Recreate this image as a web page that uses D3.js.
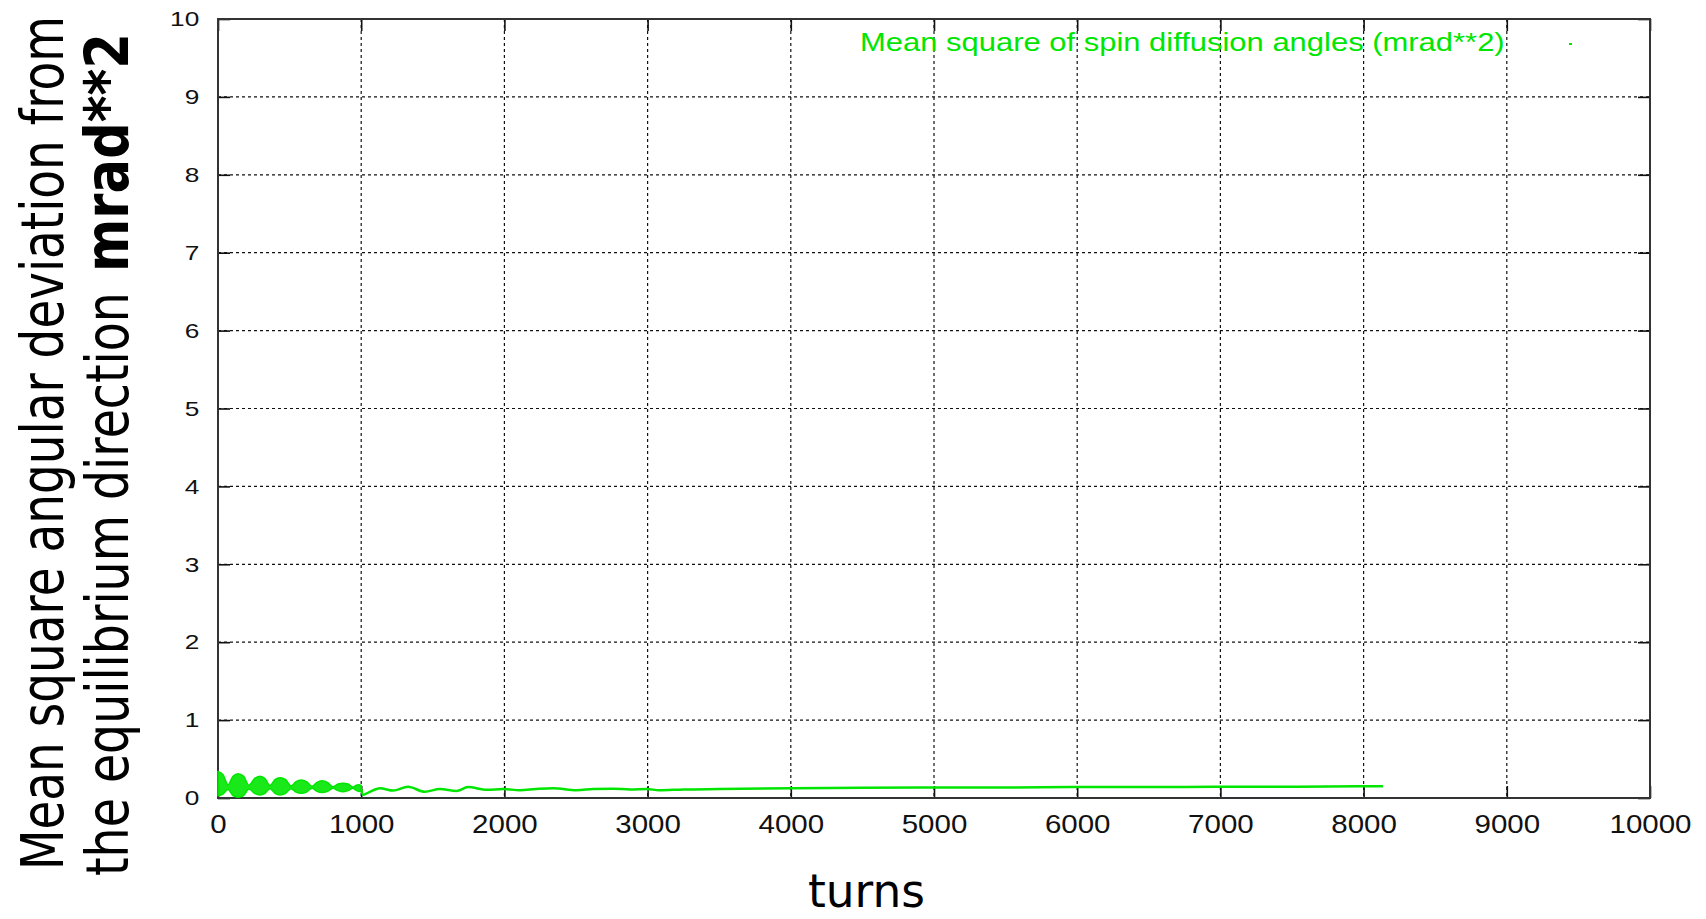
<!DOCTYPE html>
<html>
<head>
<meta charset="utf-8">
<script src="https://cdn.jsdelivr.net/npm/d3@7"></script>
<style>
  body { margin: 0; background: #fff; }
  svg { display: block; }
</style>
</head>
<body>
<div id="chart"></div>
<script>
// dense oscillating part (0 - 1000 turns): envelope
const bandTurns = [0, 35, 70, 105, 140, 178, 216, 255, 293, 328, 363, 398, 433, 472, 510, 545, 580, 618, 656, 691, 726, 765, 803, 838, 873, 908, 943, 962, 985, 1000];
const bandUpper = [0.34, 0.30, 0.17, 0.28, 0.31, 0.28, 0.165, 0.25, 0.28, 0.25, 0.16, 0.235, 0.26, 0.235, 0.155, 0.21, 0.23, 0.21, 0.15, 0.20, 0.22, 0.20, 0.145, 0.18, 0.19, 0.18, 0.14, 0.16, 0.17, 0.16];
const bandLower = [0.03, 0.05, 0.11, 0.03, 0.01, 0.03, 0.115, 0.06, 0.04, 0.06, 0.12, 0.06, 0.04, 0.06, 0.12, 0.075, 0.06, 0.075, 0.125, 0.085, 0.07, 0.085, 0.125, 0.095, 0.08, 0.095, 0.125, 0.10, 0.085, 0.09];

// single curve after 1000 turns
const lineTurns = [1000, 1010, 1050, 1131, 1224, 1327, 1444, 1550, 1666, 1746, 1877, 1992, 2108, 2220, 2340, 2505, 2620, 2760, 2880, 2995, 3080, 3250, 3500, 4000, 4500, 5000, 5500, 6000, 6500, 7000, 7500, 8000, 8135];
const lineValues = [0.12, 0.04, 0.07, 0.125, 0.095, 0.145, 0.08, 0.115, 0.09, 0.14, 0.105, 0.115, 0.10, 0.115, 0.125, 0.10, 0.115, 0.12, 0.11, 0.115, 0.10, 0.11, 0.115, 0.125, 0.13, 0.135, 0.135, 0.14, 0.14, 0.145, 0.145, 0.15, 0.15];

const xTicks = [0, 1000, 2000, 3000, 4000, 5000, 6000, 7000, 8000, 9000, 10000];
const yTicks = [0, 1, 2, 3, 4, 5, 6, 7, 8, 9, 10];

const legendLabel = 'Mean square of spin diffusion angles (mrad**2)';
const green = '#00e600';

const W = 1706, H = 919;
const margin = { top: 19, right: 56, bottom: 121, left: 218 },
      width = W - margin.left - margin.right,
      height = H - margin.top - margin.bottom;

const svg = d3.select('#chart').append('svg')
    .attr('width', W)
    .attr('height', H);

const g = svg.append('g')
    .attr('transform', 'translate(' + margin.left + ',' + margin.top + ')');

const x = d3.scaleLinear().domain([0, 10000]).range([0, width]);
const y = d3.scaleLinear().domain([0, 10]).range([height, 0]);

// squeeze a text along its own direction so it spans `len` pixels
function fitText(sel, pos, len) {
    const natural = sel.node().getComputedTextLength();
    sel.attr('transform', pos + ' scale(' + (len / natural) + ',1)');
}

// grid (dotted)
g.append('g').selectAll('line.gx')
    .data(xTicks.slice(1, -1))
    .enter().append('line')
    .attr('x1', d => x(d)).attr('x2', d => x(d))
    .attr('y1', 0).attr('y2', height)
    .attr('stroke', '#111').attr('stroke-width', 1.2)
    .attr('stroke-dasharray', '3,3');

g.append('g').selectAll('line.gy')
    .data(yTicks.slice(1, -1))
    .enter().append('line')
    .attr('x1', 0).attr('x2', width)
    .attr('y1', d => y(d)).attr('y2', d => y(d))
    .attr('stroke', '#111').attr('stroke-width', 1.2)
    .attr('stroke-dasharray', '3,3');

// axes: inward ticks on all four sides
const tickLen = 12;
const xAxis = g.append('g')
    .attr('transform', 'translate(0,' + height + ')')
    .call(d3.axisBottom(x).tickValues(xTicks).tickSizeInner(-tickLen).tickSizeOuter(0).tickPadding(tickLen + 5).tickFormat(d3.format('d')));
xAxis.selectAll('text')
    .attr('transform', 'scale(1.18,1)')
    .style('font-family', '"Liberation Sans", Arial, sans-serif')
    .style('font-size', '25px')
    .attr('fill', '#111');

const yAxis = g.append('g')
    .call(d3.axisLeft(y).tickValues(yTicks).tickSizeInner(-tickLen).tickSizeOuter(0).tickPadding(0).tickFormat(d3.format('d')));
yAxis.selectAll('text')
    .attr('x', -15)
    .attr('transform', 'scale(1.25,1)')
    .style('font-family', '"Liberation Sans", Arial, sans-serif')
    .style('font-size', '21px')
    .attr('fill', '#111');

g.append('g')
    .call(d3.axisTop(x).tickValues(xTicks).tickSizeInner(-tickLen).tickSizeOuter(0).tickFormat(''));
g.append('g')
    .attr('transform', 'translate(' + width + ',0)')
    .call(d3.axisRight(y).tickValues(yTicks).tickSizeInner(-tickLen).tickSizeOuter(0).tickFormat(''));

g.selectAll('.domain').remove();
g.selectAll('.tick line').attr('stroke', '#111').attr('stroke-width', 1.6);

// frame
g.append('rect')
    .attr('x', 0).attr('y', 0)
    .attr('width', width).attr('height', height)
    .attr('fill', 'none')
    .attr('stroke', '#333')
    .attr('stroke-width', 2);

// data
const band = bandTurns.map((t, i) => ({ t: t, hi: bandUpper[i], lo: bandLower[i] }));
const area = d3.area()
    .x(d => x(d.t))
    .y0(d => y(d.lo))
    .y1(d => y(d.hi))
    .curve(d3.curveMonotoneX);

g.append('path')
    .datum(band)
    .attr('d', area)
    .attr('fill', green)
    .attr('fill-opacity', 0.9)
    .attr('stroke', green)
    .attr('stroke-width', 1.5);

const pts = lineTurns.map((t, i) => ({ t: t, v: lineValues[i] }));
const line = d3.line()
    .x(d => x(d.t))
    .y(d => y(d.v))
    .curve(d3.curveMonotoneX);

g.append('path')
    .datum(pts)
    .attr('d', line)
    .attr('fill', 'none')
    .attr('stroke', green)
    .attr('stroke-width', 2.5);

// legend
const legendText = svg.append('text')
    .style('font-family', '"Liberation Sans Narrow", "Liberation Sans", Arial, sans-serif')
    .style('font-size', '26px')
    .attr('fill', green)
    .text(legendLabel);
fitText(legendText, 'translate(860,51)', 645);

svg.append('line')
    .attr('x1', 1569).attr('x2', 1572)
    .attr('y1', 44).attr('y2', 44)
    .attr('stroke', green)
    .attr('stroke-width', 2);

// axis titles
const titleFont = '"DejaVu Sans", Verdana, sans-serif';

const xTitle = svg.append('text')
    .style('font-family', titleFont)
    .style('font-size', '46px')
    .attr('fill', '#000')
    .text('turns');
fitText(xTitle, 'translate(808,907)', 117);

const yTitle1 = svg.append('text')
    .style('font-family', titleFont)
    .style('font-size', '58px')
    .attr('fill', '#000')
    .text('Mean square angular deviation from');
fitText(yTitle1, 'translate(63,870) rotate(-90)', 854);

const yTitle2 = svg.append('text')
    .style('font-family', titleFont)
    .style('font-size', '58px')
    .attr('fill', '#000')
    .text('the equilibrium direction');
fitText(yTitle2, 'translate(128,876) rotate(-90)', 584);

const yTitle3 = svg.append('text')
    .style('font-family', titleFont)
    .style('font-size', '60px')
    .style('font-weight', 'bold')
    .attr('fill', '#000')
    .text('mrad**2');
fitText(yTitle3, 'translate(128,272) rotate(-90)', 239);
</script>
</body>
</html>
